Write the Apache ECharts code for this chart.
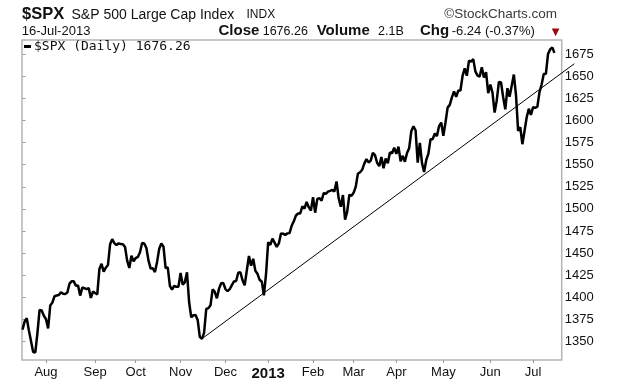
<!DOCTYPE html>
<html>
<head>
<meta charset="utf-8">
<script src="https://cdn.jsdelivr.net/npm/echarts@6/dist/echarts.min.js"></script>
<style>
html,body{margin:0;padding:0;background:#fff;}
#c{width:620px;height:383px;}
</style>
</head>
<body>
<div id="c"></div>
<script>
// ---- DATA ----
const months = ['2012-07','2012-08','2012-09','2012-10','2012-11','2012-12','2013-01','2013-02','2013-03','2013-04','2013-05','2013-06','2013-07'];
const tradingDays = [
  [17,18,19,20,23,24,25,26,27,30,31],
  [1,2,3,6,7,8,9,10,13,14,15,16,17,20,21,22,23,24,27,28,29,30,31],
  [4,5,6,7,10,11,12,13,14,17,18,19,20,21,24,25,26,27,28],
  [1,2,3,4,5,8,9,10,11,12,15,16,17,18,19,22,23,24,25,26,31],
  [1,2,5,6,7,8,9,12,13,14,15,16,19,20,21,23,26,27,28,29,30],
  [3,4,5,6,7,10,11,12,13,14,17,18,19,20,21,24,26,27,28,31],
  [2,3,4,7,8,9,10,11,14,15,16,17,18,22,23,24,25,28,29,30,31],
  [1,4,5,6,7,8,11,12,13,14,15,19,20,21,22,25,26,27,28],
  [1,4,5,6,7,8,11,12,13,14,15,18,19,20,21,22,25,26,27,28],
  [1,2,3,4,5,8,9,10,11,12,15,16,17,18,19,22,23,24,25,26,29,30],
  [1,2,3,6,7,8,9,10,13,14,15,16,17,20,21,22,23,24,28,29,30,31],
  [3,4,5,6,7,10,11,12,13,14,17,18,19,20,21,24,25,26,27,28],
  [1,2,3,5,8,9,10,11,12,15,16]
];
const closeJul12 = [1363.67,1372.78,1376.51,1362.66,1350.52,1338.31,1337.89,1360.02,1385.97,1385.30,1379.32];
const closeAug12 = [1375.32,1365.00,1390.99,1394.23,1401.35,1402.22,1402.80,1405.87,1404.11,1403.93,1405.53,1415.51,1418.16,1418.13,1413.17,1413.49,1402.08,1411.13,1410.44,1409.30,1410.49,1399.48,1406.58];
const closeSep12 = [1404.94,1403.44,1432.12,1437.92,1429.08,1433.56,1436.56,1459.99,1465.77,1461.19,1459.32,1461.05,1460.26,1460.15,1456.89,1441.59,1433.32,1447.15,1440.67];
const closeOct12 = [1444.49,1445.75,1450.99,1461.40,1460.93,1455.88,1441.48,1432.56,1432.84,1428.59,1440.13,1454.92,1460.91,1457.34,1433.19,1433.82,1413.11,1408.75,1412.97,1411.94,1412.16];
const closeNov12 = [1427.59,1414.20,1417.26,1428.39,1394.53,1377.51,1379.85,1380.03,1374.53,1355.49,1353.33,1359.88,1386.89,1387.81,1391.03,1409.15,1406.29,1398.94,1409.93,1415.95,1416.18];
const closeDec12 = [1409.46,1407.05,1409.28,1413.94,1418.07,1418.55,1427.84,1428.48,1419.45,1413.58,1430.36,1446.79,1435.81,1443.69,1430.15,1426.66,1419.83,1418.10,1402.43,1426.19];
const closeJan13 = [1462.42,1459.37,1466.47,1461.89,1457.15,1461.02,1472.12,1472.05,1470.68,1472.34,1472.63,1480.94,1485.98,1492.56,1494.81,1494.82,1502.96,1500.18,1507.84,1501.96,1498.11];
const closeFeb13 = [1513.17,1495.71,1511.29,1512.12,1509.39,1517.93,1517.01,1519.43,1520.33,1521.38,1519.79,1530.94,1511.95,1502.42,1515.60,1487.85,1496.94,1515.99,1514.68];
const closeMar13 = [1518.20,1525.20,1539.79,1541.46,1544.26,1551.18,1556.22,1552.48,1554.52,1563.23,1560.70,1552.10,1548.34,1558.71,1545.80,1556.89,1551.69,1563.77,1562.85,1569.19];
const closeApr13 = [1562.17,1570.25,1553.69,1559.98,1553.28,1563.07,1568.61,1587.73,1593.37,1588.85,1552.36,1574.57,1552.01,1541.61,1555.25,1562.50,1578.78,1578.79,1585.16,1582.24,1593.61,1597.57];
const closeMay13 = [1582.70,1597.59,1614.42,1617.50,1625.96,1632.69,1626.67,1633.70,1633.77,1650.34,1658.78,1650.47,1667.47,1666.29,1669.16,1655.35,1650.51,1649.60,1660.06,1648.36,1654.41,1630.74];
const closeJun13 = [1640.42,1631.38,1608.90,1622.56,1643.38,1642.81,1626.13,1612.52,1636.36,1626.73,1639.04,1651.81,1628.93,1588.19,1592.43,1573.09,1588.03,1603.26,1613.20,1606.28];
const closeJul13 = [1614.96,1614.08,1615.41,1631.89,1640.46,1652.32,1652.62,1675.02,1680.19,1682.50,1676.26];
const monthlyCloses = [closeJul12,closeAug12,closeSep12,closeOct12,closeNov12,closeDec12,closeJan13,closeFeb13,closeMar13,closeApr13,closeMay13,closeJun13,closeJul13];

const monthTickLabels = ['Aug','Sep','Oct','Nov','Dec','2013','Feb','Mar','Apr','May','Jun','Jul'];
const yTickValues = [1350,1375,1400,1425,1450,1475,1500,1525,1550,1575,1600,1625,1650,1675];

// trend line: anchored at trading-day index (from first date) and price
const trendIndex = [84, 258.3];
const trendValue = [1353.3, 1664.0];

// ---- BUILD ----
const seriesData = [];
const monthStartIdx = [];
let idx = 0;
months.forEach((m, mi) => {
  tradingDays[mi].forEach((d, di) => {
    if (di === 0 && mi > 0) monthStartIdx.push(idx);
    seriesData.push([idx, monthlyCloses[mi][di]]);
    idx++;
  });
});
const labelByIdx = {};
monthStartIdx.forEach((v, k) => { labelByIdx[v] = monthTickLabels[k]; });

// axis geometry
const GL = 22, GR = 58.3, GT = 40, GB = 23, W = 620;
const xMin = -0.23, xMax = 252.4, yMin = 1329.3, yMax = 1690.8;
const pxPerDay = (W - GL - GR) / (xMax - xMin);
const GR2 = 44;                               // wider overlay grid for the trend line
const xMax2 = xMin + (W - GL - GR2) / pxPerDay;

const chart = echarts.init(document.getElementById('c'), null, {renderer: 'canvas'});
const F = 'Liberation Sans, Arial, sans-serif';
function txt(x, y, text, size, opts) {
  opts = opts || {};
  return {
    type: 'text', x: x, y: y, silent: true,
    style: {
      text: text, fontSize: size, fontFamily: opts.family || F,
      fontWeight: opts.bold ? 'bold' : 'normal',
      fill: opts.color || '#111', align: opts.align || 'left', verticalAlign: 'middle'
    }
  };
}

chart.setOption({
  animation: false,
  backgroundColor: '#ffffff',
  grid: [
    {left: GL, right: GR, top: GT, bottom: GB,
     show: true, borderColor: '#b4b4b4', borderWidth: 1.5, backgroundColor: 'transparent'},
    {left: GL, right: GR2, top: GT, bottom: GB, show: false}
  ],
  legend: {
    data: [{name: '$SPX', icon: 'rect'}],
    left: 24, top: 40, padding: 0,
    itemWidth: 7, itemHeight: 3, itemGap: 5,
    formatter: function () { return '$SPX (Daily) 1676.26'; },
    textStyle: {fontFamily: 'DejaVu Sans Mono, monospace', fontSize: 13, color: '#111', padding: [0,0,0,-2]}
  },
  xAxis: [{
    type: 'value', min: xMin, max: xMax, gridIndex: 0,
    splitLine: {show: false},
    axisLine: {show: false},
    axisTick: {show: true, length: 3, lineStyle: {color: '#999'}, customValues: monthStartIdx},
    axisLabel: {
      customValues: monthStartIdx,
      margin: 6, fontFamily: F, fontSize: 13, color: '#111',
      formatter: function (v) {
        const l = labelByIdx[Math.round(v)] || '';
        return /^\d{4}$/.test(l) ? '{y|' + l + '}' : l;
      },
      rich: {y: {fontFamily: F, fontSize: 15, fontWeight: 'bold', color: '#111'}}
    }
  }, {
    type: 'value', min: xMin, max: xMax2, gridIndex: 1, show: false
  }],
  yAxis: [{
    type: 'value', position: 'right', min: yMin, max: yMax, gridIndex: 0,
    splitLine: {show: false},
    axisLine: {show: false},
    axisTick: {show: true, length: 3, lineStyle: {color: '#999'}, customValues: yTickValues},
    axisLabel: {customValues: yTickValues, margin: 3, fontFamily: F, fontSize: 13, color: '#111',
      formatter: function (v) { return String(v); }}
  }, {
    type: 'value', min: yMin, max: yMax, gridIndex: 1, show: false
  }],
  series: [
    {
      name: '$SPX', type: 'line', data: seriesData, showSymbol: false,
      xAxisIndex: 0, yAxisIndex: 0,
      lineStyle: {color: '#000', width: 2.5}, itemStyle: {color: '#000'}
    },
    {
      name: 'trend', type: 'line', showSymbol: false, silent: true,
      xAxisIndex: 1, yAxisIndex: 1,
      data: [[trendIndex[0], trendValue[0]], [trendIndex[1], trendValue[1]]],
      lineStyle: {color: '#000', width: 1}, itemStyle: {color: '#000'}
    }
  ],
  graphic: [
    txt(22, 14.4, '$SPX', 16.5, {bold: true}),
    txt(71.5, 14.8, 'S&P 500 Large Cap Index', 14),
    txt(246.5, 14.8, 'INDX', 12),
    txt(557, 14.4, '\u00A9StockCharts.com', 13.5, {align: 'right', color: '#3a3a3a'}),
    txt(21.7, 31.4, '16-Jul-2013', 13),
    txt(218.5, 30.4, 'Close', 15, {bold: true}),
    txt(262.7, 31.2, '1676.26', 12.5),
    txt(316.7, 30.4, 'Volume', 15, {bold: true}),
    txt(378, 31.2, '2.1B', 12.5),
    txt(420, 30.4, 'Chg', 15, {bold: true}),
    txt(451.7, 31.2, '-6.24 (-0.37%)', 13),
    txt(555.5, 32, '\u25BC', 10, {align: 'center', color: '#9b0a0a', family: 'DejaVu Sans, sans-serif'})
  ]
});
</script>
</body>
</html>
